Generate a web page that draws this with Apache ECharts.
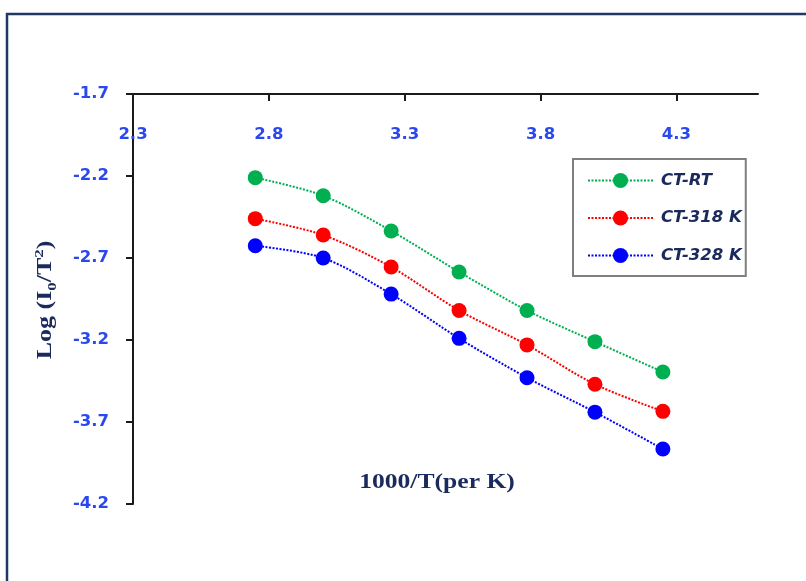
<!DOCTYPE html>
<html>
<head>
<meta charset="utf-8">
<script src="https://cdn.jsdelivr.net/npm/echarts@6/dist/echarts.min.js"></script>
<style>
  html, body { margin: 0; padding: 0; background: #fff; }
  #chart { width: 806px; height: 581px; }
</style>
</head>
<body>
<div id="chart"></div>
<script>
// Inverse temperature (1000/T) for each measurement
const xValues = [2.75, 3.0, 3.25, 3.5, 3.75, 4.0, 4.25];
// Log(I0/T^2) for each sample
const ctRT  = [-2.21, -2.32, -2.535, -2.785, -3.02, -3.21, -3.395];
const ct318 = [-2.46, -2.56, -2.755, -3.02, -3.23, -3.47, -3.635];
const ct328 = [-2.625, -2.70, -2.92, -3.19, -3.43, -3.64, -3.865];
const seriesNames = ['CT-RT', 'CT-318 K', 'CT-328 K'];
// Axis tick labels
const xTicks = [2.3, 2.8, 3.3, 3.8, 4.3];
const yTicks = [-4.2, -3.7, -3.2, -2.7, -2.2, -1.7];

const colors = ['#00b050', '#ff0000', '#0000ff'];
const tickFont = { color: '#2a48f0', fontFamily: 'DejaVu Sans', fontWeight: 'bold', fontSize: 16.5 };
const navy = '#1b2a5c';

function pairs(ys) { return xValues.map((x, i) => [x, ys[i]]); }

function makeSeries(name, ys, color) {
  return {
    name: name,
    type: 'line',
    data: pairs(ys),
    smooth: 0.3,
    symbol: 'circle',
    symbolSize: 15,
    itemStyle: { color: color },
    lineStyle: { color: color, width: 2, type: [2, 1.5] },
    emphasis: { disabled: true },
    z: 3
  };
}

const chart = echarts.init(document.getElementById('chart'), null, { renderer: 'canvas' });
chart.setOption({
  animation: false,
  backgroundColor: '#ffffff',
  grid: { left: 133, top: 94, right: 48, bottom: 77, containLabel: false },
  xAxis: {
    type: 'value',
    position: 'top',
    min: 2.3,
    max: 4.6,
    splitLine: { show: false },
    axisLine: { show: true, onZero: false, lineStyle: { color: '#1a1a1a', width: 2 } },
    axisTick: { show: true, inside: true, length: 7, lineStyle: { color: '#1a1a1a', width: 2 }, customValues: xTicks },
    axisLabel: {
      inside: true, margin: 32, customValues: xTicks,
      formatter: v => v.toFixed(1), ...tickFont
    }
  },
  yAxis: {
    type: 'value',
    min: -4.2,
    max: -1.7,
    splitLine: { show: false },
    axisLine: { show: true, onZero: false, lineStyle: { color: '#1a1a1a', width: 2 } },
    axisTick: { show: true, length: 7, lineStyle: { color: '#1a1a1a', width: 2 }, customValues: yTicks },
    axisLabel: {
      margin: 24, customValues: yTicks,
      formatter: v => v.toFixed(1), ...tickFont
    }
  },
  legend: {
    data: seriesNames,
    orient: 'vertical',
    left: 573,
    top: 159,
    padding: [13, 4, 12, 14],
    itemWidth: 65,
    itemHeight: 19,
    itemGap: 20.5,
    borderColor: '#7f7f7f',
    borderWidth: 2,
    backgroundColor: '#ffffff',
    selectedMode: false,
    textStyle: {
      color: navy, fontFamily: 'DejaVu Sans', fontWeight: 'bold', fontStyle: 'italic',
      fontSize: 16.5, padding: [0, 0, 0, 3]
    }
  },
  graphic: [
    {
      type: 'rect', silent: true, z: -10,
      shape: { x: 7, y: 14, width: 900, height: 700 },
      style: { fill: 'none', stroke: '#203864', lineWidth: 2.5 }
    },
    {
      type: 'text', silent: true,
      x: 437, y: 483, scaleX: 1.28,
      style: {
        text: '1000/T(per K)',
        font: 'bold 20px "Liberation Serif"',
        fill: navy, align: 'center', verticalAlign: 'middle'
      }
    },
    {
      type: 'text', silent: true,
      x: 46, y: 300, rotation: Math.PI / 2, scaleX: 1.3,
      style: {
        text: '{b|Log (I}{s|0}{b|/T}{p|2}{b|)}',
        align: 'center', verticalAlign: 'middle',
        fill: navy,
        rich: {
          b: { font: 'bold 20px "Liberation Serif"', fill: navy, lineHeight: 26 },
          s: { font: 'bold 13px "Liberation Serif"', fill: navy, verticalAlign: 'bottom', lineHeight: 26 },
          p: { font: 'bold 13px "Liberation Serif"', fill: navy, verticalAlign: 'top', lineHeight: 26 }
        }
      }
    }
  ],
  series: [
    makeSeries(seriesNames[0], ctRT, colors[0]),
    makeSeries(seriesNames[1], ct318, colors[1]),
    makeSeries(seriesNames[2], ct328, colors[2])
  ]
});
</script>
</body>
</html>
